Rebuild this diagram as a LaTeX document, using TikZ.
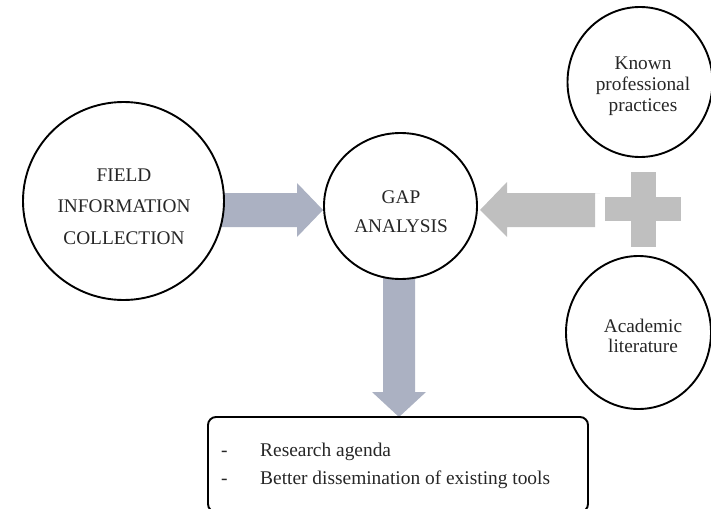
\documentclass[tikz,border=0pt]{standalone}
\usepackage{fontspec}
\setmainfont{Liberation Serif}
\usetikzlibrary{shapes.geometric}
\definecolor{bluegray}{HTML}{ABB1C2}
\definecolor{lightgray}{HTML}{BFBFBF}
\tikzset{
  ring/.style={draw=black, line width=1.9pt, ellipse, inner sep=0pt},
  txt/.style={align=center, inner sep=0pt, text=black!85},
}
\begin{document}
\begin{tikzpicture}[x=1pt,y=-1pt]
\useasboundingbox (0,0) rectangle (711,508);
\clip (0,0) rectangle (711,508);
% arrows
\fill[bluegray] (215,193) -- (297,193) -- (297,183) -- (323,210) -- (297,237) -- (297,227) -- (215,227) -- cycle;
\fill[lightgray] (600,193) -- (507,193) -- (507,182) -- (480,210) -- (507,237) -- (507,227) -- (595,227) -- (595,193) -- cycle;
\fill[bluegray] (383,270) -- (415,270) -- (415,392) -- (426,392) -- (399,417) -- (372,392) -- (383,392) -- cycle;
% plus
\fill[lightgray] (605,197) rectangle (681,221);
\fill[lightgray] (631,172) rectangle (656,247);
% circles
\node[ring, fill=white, minimum width=201pt, minimum height=198pt] (field) at (123.5,201) {};
\node[ring, fill=white, minimum width=153pt, minimum height=146pt] (gap) at (400.5,206) {};
\node[ring, fill=white, minimum width=145pt, minimum height=150pt] (known) at (640,82) {};
\node[ring, fill=white, minimum width=145pt, minimum height=153pt] (acad) at (638.5,332.5) {};
% texts
\node[txt, font=\fontsize{19.3}{31.7}\selectfont] (fieldtxt) at (124,206.5) {FIELD\\INFORMATION\\COLLECTION};
\node[txt, font=\fontsize{19.3}{29}\selectfont] (gaptxt) at (401,211.5) {GAP\\ANALYSIS};
\node[txt, font=\fontsize{19.3}{21}\selectfont] (knowntxt) at (643,86) {Known\\professional\\practices};
\node[txt, font=\fontsize{19.3}{20}\selectfont] (acadtxt) at (643,335.5) {Academic\\literature};
% box
\draw[line width=1.9pt, rounded corners=8pt] (208,417) rectangle (588,512);
\node[align=left, inner sep=0pt, anchor=west, text=black!85, font=\fontsize{19.4}{28}\selectfont] (boxtxt) at (221,466)
  {\makebox[39pt][l]{-}Research agenda\\\makebox[39pt][l]{-}Better dissemination of existing tools};
\end{tikzpicture}
\end{document}
